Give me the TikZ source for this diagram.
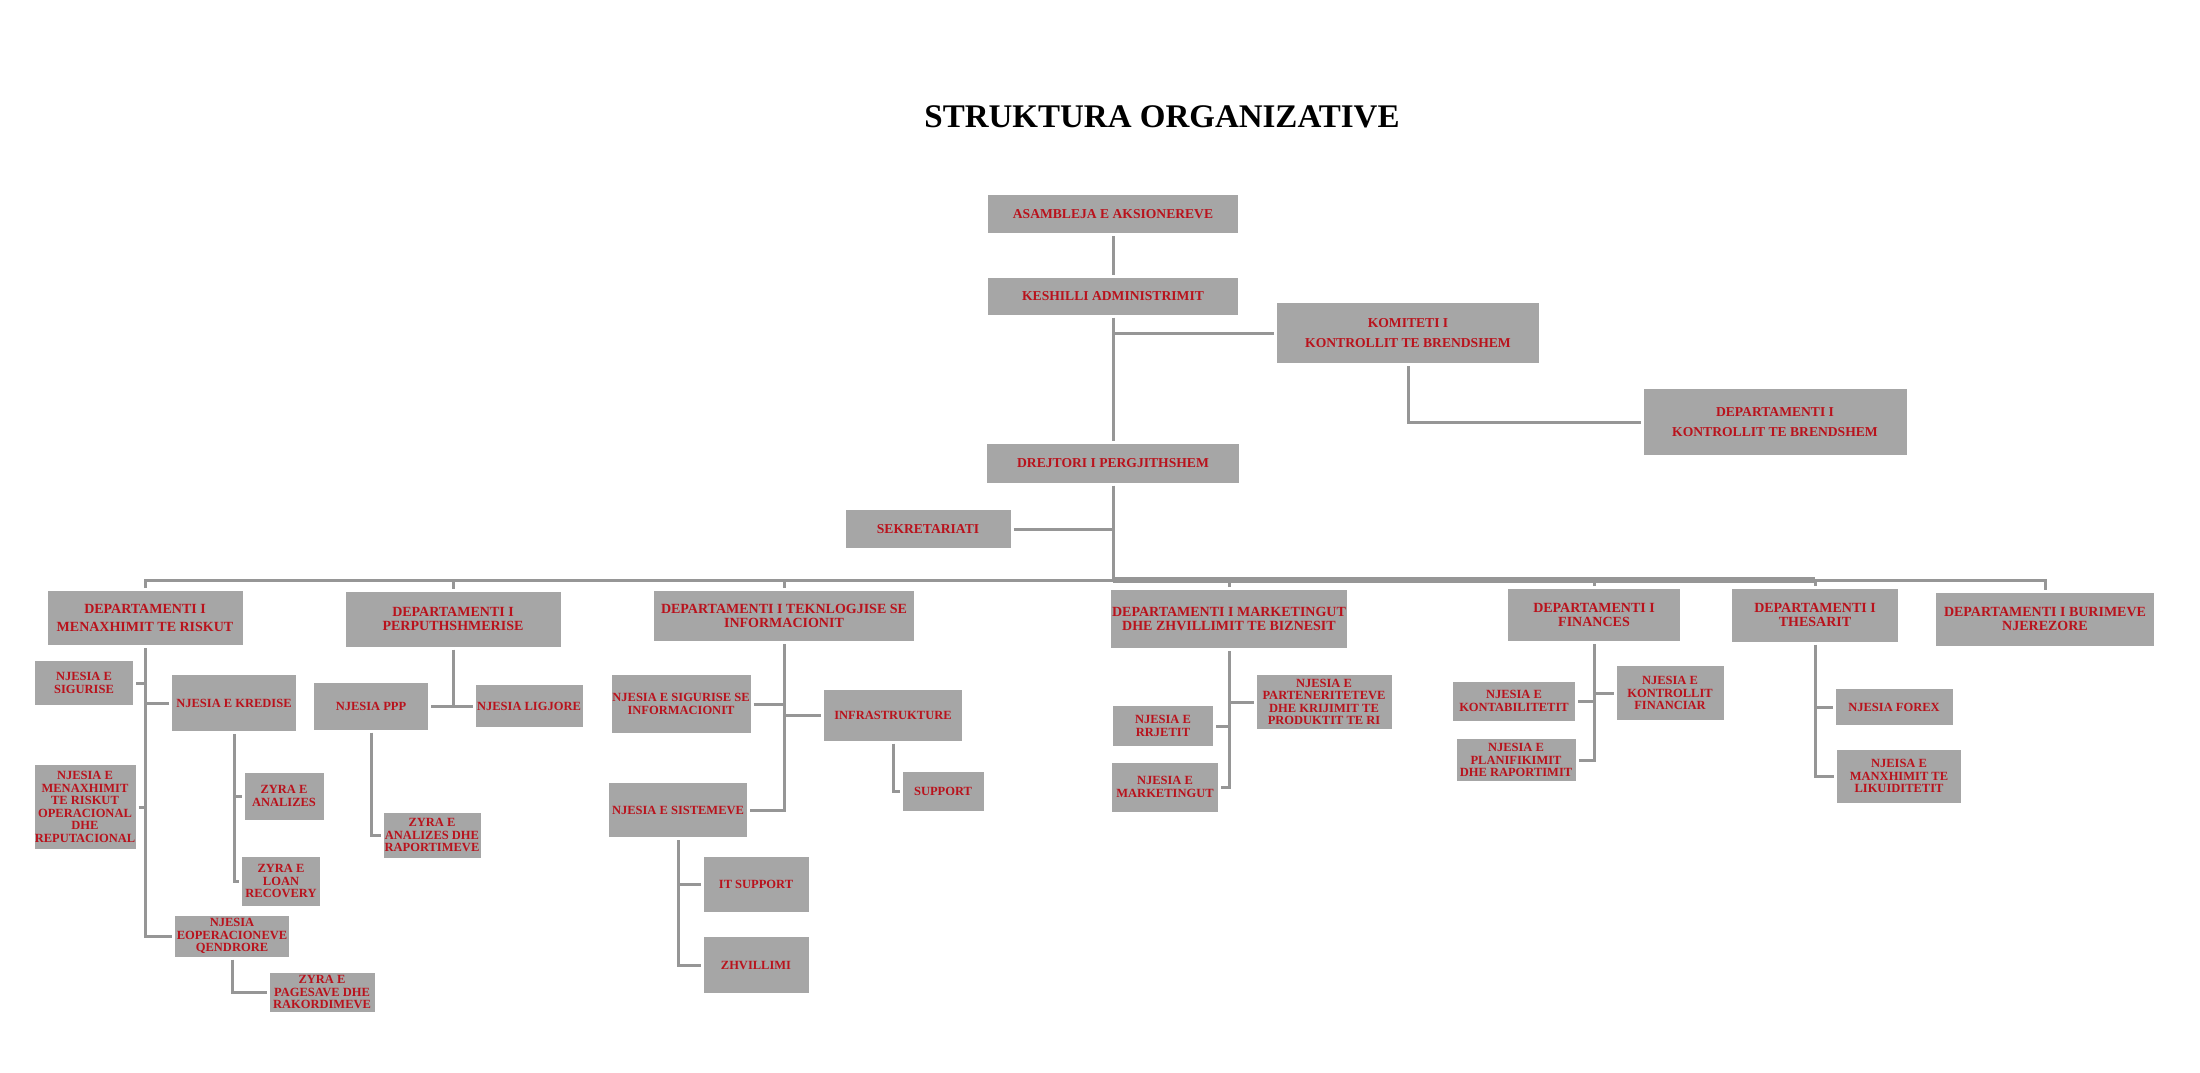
\documentclass[tikz,border=0pt]{standalone}
\usepackage{fontspec}
\setmainfont{Liberation Serif}
\definecolor{boxgray}{RGB}{166,166,166}
\definecolor{unitred}{RGB}{185,18,28}
\definecolor{linegray}{RGB}{150,150,150}
\tikzset{
  box/.style={fill=boxgray, text=unitred, align=center, inner sep=0pt, outer sep=3pt},
  top/.style={box, font=\fontsize{13.6}{19.5}\selectfont\bfseries},
  dept/.style={box, font=\fontsize{14}{13.5}\selectfont\bfseries},
  unit/.style={box, font=\fontsize{12.5}{12.6}\selectfont\bfseries},
  link/.style={draw=linegray, line width=3pt},
}
\begin{document}
\begin{tikzpicture}[x=1pt,y=-1pt]
   \useasboundingbox (0,0) rectangle (2200,1073);

   \node[font=\fontsize{33}{33}\selectfont\bfseries] (title) at (1162,117) {STRUKTURA ORGANIZATIVE};

   \node[top, minimum width=250, minimum height=38] (asamb) at (1113,214) {ASAMBLEJA E AKSIONEREVE};
   \node[top, minimum width=250, minimum height=37] (kesh) at (1113,296) {KESHILLI ADMINISTRIMIT};
   \node[top, minimum width=262, minimum height=60] (kom) at (1408,333) {KOMITETI I\\KONTROLLIT TE BRENDSHEM};
   \node[top, minimum width=263, minimum height=66] (dkon) at (1775,422) {DEPARTAMENTI I\\KONTROLLIT TE BRENDSHEM};
   \node[top, minimum width=252, minimum height=39] (drej) at (1113,463) {DREJTORI I PERGJITHSHEM};
   \node[top, minimum width=165, minimum height=38] (sekr) at (928,529) {SEKRETARIATI};

   \node[dept, minimum width=195, minimum height=54, font=\fontsize{14}{18}\selectfont\bfseries] (riskut) at (145,618) {DEPARTAMENTI I\\MENAXHIMIT TE RISKUT};
   \node[dept, minimum width=215, minimum height=55] (perp) at (453,619) {DEPARTAMENTI I\\PERPUTHSHMERISE};
   \node[dept, minimum width=260, minimum height=50] (tekn) at (784,616) {DEPARTAMENTI I TEKNLOGJISE SE\\INFORMACIONIT};
   \node[dept, minimum width=236, minimum height=58] (mark) at (1229,619) {DEPARTAMENTI I MARKETINGUT\\DHE ZHVILLIMIT TE BIZNESIT};
   \node[dept, minimum width=172, minimum height=52] (fin) at (1594,615) {DEPARTAMENTI I\\FINANCES};
   \node[dept, minimum width=166, minimum height=53] (thes) at (1815,615) {DEPARTAMENTI I\\THESARIT};
   \node[dept, minimum width=218, minimum height=53] (burim) at (2045,619) {DEPARTAMENTI I BURIMEVE\\NJEREZORE};

   \node[unit, minimum width=98, minimum height=44] (sigur) at (84,683) {NJESIA E\\SIGURISE};
   \node[unit, minimum width=124, minimum height=56] (kred) at (234,703) {NJESIA E KREDISE};
   \node[unit, minimum width=101, minimum height=84] (oper) at (85,807) {NJESIA E\\MENAXHIMIT\\TE RISKUT\\OPERACIONAL\\DHE\\REPUTACIONAL};
   \node[unit, minimum width=114, minimum height=41] (qendr) at (232,936) {NJESIA\\EOPERACIONEVE\\QENDRORE};
   \node[unit, minimum width=79, minimum height=47] (anal) at (284,796) {ZYRA E\\ANALIZES};
   \node[unit, minimum width=78, minimum height=49] (loan) at (281,881) {ZYRA E\\LOAN\\RECOVERY};
   \node[unit, minimum width=105, minimum height=39] (pages) at (322,992) {ZYRA E\\PAGESAVE DHE\\RAKORDIMEVE};

   \node[unit, minimum width=114, minimum height=47] (ppp) at (371,706) {NJESIA PPP};
   \node[unit, minimum width=107, minimum height=42] (ligj) at (529,706) {NJESIA LIGJORE};
   \node[unit, minimum width=97, minimum height=45] (zanr) at (432,835) {ZYRA E\\ANALIZES DHE\\RAPORTIMEVE};

   \node[unit, minimum width=139, minimum height=58] (sigi) at (681,704) {NJESIA E SIGURISE SE\\INFORMACIONIT};
   \node[unit, minimum width=138, minimum height=51] (infra) at (893,715) {INFRASTRUKTURE};
   \node[unit, minimum width=138, minimum height=54] (sist) at (678,810) {NJESIA E SISTEMEVE};
   \node[unit, minimum width=81, minimum height=39] (supp) at (943,791) {SUPPORT};
   \node[unit, minimum width=105, minimum height=55] (itsup) at (756,884) {IT SUPPORT};
   \node[unit, minimum width=105, minimum height=56] (zhv) at (756,965) {ZHVILLIMI};

   \node[unit, minimum width=135, minimum height=54] (parten) at (1324,702) {NJESIA E\\PARTENERITETEVE\\DHE KRIJIMIT TE\\PRODUKTIT TE RI};
   \node[unit, minimum width=100, minimum height=40] (rrjet) at (1163,726) {NJESIA E\\RRJETIT};
   \node[unit, minimum width=106, minimum height=49] (njmark) at (1165,787) {NJESIA E\\MARKETINGUT};

   \node[unit, minimum width=122, minimum height=39] (kontab) at (1514,701) {NJESIA E\\KONTABILITETIT};
   \node[unit, minimum width=107, minimum height=54] (kfin) at (1670,693) {NJESIA E\\KONTROLLIT\\FINANCIAR};
   \node[unit, minimum width=119, minimum height=42] (plan) at (1516,760) {NJESIA E\\PLANIFIKIMIT\\DHE RAPORTIMIT};

   \node[unit, minimum width=117, minimum height=36] (forex) at (1894,707) {NJESIA FOREX};
   \node[unit, minimum width=124, minimum height=53] (likuid) at (1899,776) {NJEISA E\\MANXHIMIT TE\\LIKUIDITETIT};

   \coordinate (bus) at (0,580);

   \draw[link] (asamb) -- (kesh);
   \draw[link] (kesh) -- (drej);
   \draw[link] (kom.west) -- (kom.west -| kesh.south);
   \draw[link] (kom.south) |- (dkon.west);
   \draw[link] (sekr.east) -- (sekr.east -| drej.south);
   \draw[link] (drej.south) -- (drej.south |- bus);
   \draw[link] (riskut.north) |- (burim.north |- bus) -- (burim.north);
   \draw[link, line width=5.5pt] (drej.south |- bus) -- (thes.north |- bus);
   \foreach \d in {perp,tekn,mark,fin,thes}
   \draw[link] (\d.north) -- (\d.north |- bus);

   \draw[link] (riskut.south) |- (qendr.west);
   \draw[link] (sigur.east) -- (sigur.east -| riskut.south);
   \draw[link] (oper.east) -- (oper.east -| riskut.south);
   \draw[link] (kred.west) -- (kred.west -| riskut.south);
   \draw[link] (kred.south) |- (loan.west);
   \draw[link] (anal.west) -- (anal.west -| kred.south);
   \draw[link] (qendr.south) |- (pages.west);

   \draw[link] (perp.south) -- (perp.south |- ppp.east);
   \draw[link] (ppp.east) -- (ligj.west);
   \draw[link] (ppp.south) |- (zanr.west);

   \draw[link] (tekn.south) |- (sist.east);
   \draw[link] (sigi.east) -- (sigi.east -| tekn.south);
   \draw[link] (infra.west) -- (infra.west -| tekn.south);
   \draw[link] (infra.south) |- (supp.west);
   \draw[link] (sist.south) |- (zhv.west);
   \draw[link] (itsup.west) -- (itsup.west -| sist.south);

   \draw[link] (mark.south) |- (njmark.east);
   \draw[link] (parten.west) -- (parten.west -| mark.south);
   \draw[link] (rrjet.east) -- (rrjet.east -| mark.south);

   \draw[link] (fin.south) |- (plan.east);
   \draw[link] (kontab.east) -- (kontab.east -| fin.south);
   \draw[link] (kfin.west) -- (kfin.west -| fin.south);

   \draw[link] (thes.south) |- (likuid.west);
   \draw[link] (forex.west) -- (forex.west -| thes.south);

\end{tikzpicture}
\end{document}
